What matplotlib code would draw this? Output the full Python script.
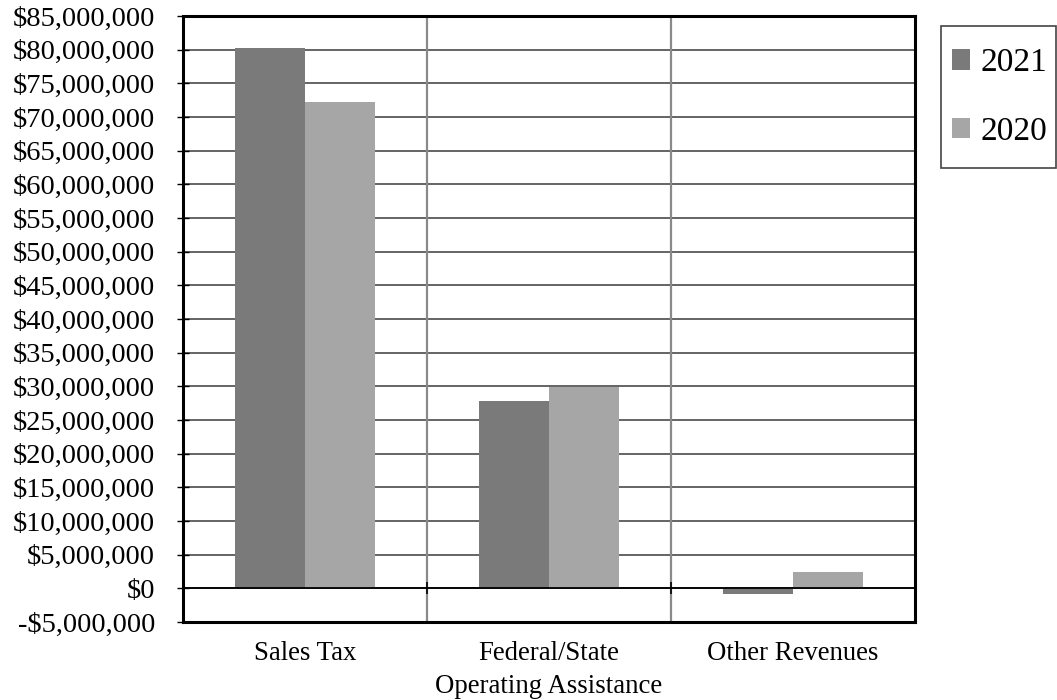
import matplotlib.pyplot as plt
import numpy as np
from matplotlib.patches import Rectangle
from matplotlib.ticker import FuncFormatter

categories = ["Sales Tax", "Federal/State\nOperating Assistance", "Other Revenues"]
years = ["2021", "2020"]
values_2021 = [80_200_000, 27_850_000, -850_000]
values_2020 = [72_250_000, 29_900_000, 2_430_000]
colors = ["#7a7a7a", "#a6a6a6"]

plt.rcParams["font.family"] = ["Liberation Serif", "DejaVu Serif"]

W, H = 1057, 700
fig = plt.figure(figsize=(W / 100, H / 100), dpi=100)
ax = fig.add_axes([183 / W, 1 - 622 / H, (915 - 183) / W, (622 - 16) / H])

x = np.arange(len(categories))
width = 0.285
ax.bar(x - width / 2, values_2021, width, color=colors[0], label=years[0], zorder=3)
ax.bar(x + width / 2, values_2020, width, color=colors[1], label=years[1], zorder=3)

ax.set_xlim(-0.5, len(categories) - 0.5)
ax.set_ylim(-5_000_000, 85_000_000)
ax.set_yticks(np.arange(-5_000_000, 85_000_001, 5_000_000))


def money(v, _pos):
    if v < 0:
        return f"-${abs(v):,.0f}"
    return f"${v:,.0f}"


ax.yaxis.set_major_formatter(FuncFormatter(money))
ax.tick_params(axis="y", labelsize=20.5, length=8, width=1, direction="inout", pad=16)

# horizontal gridlines, zero line, category separators
for v in ax.get_yticks():
    ax.axhline(v, color="#3a3a3a", lw=1.1, zorder=1)
ax.axhline(0, color="black", lw=1.3, zorder=4)
bounds = x[:-1] + 0.5
for b in bounds:
    ax.axvline(b, color="#8a8a8a", lw=1.6, zorder=2)
ax.plot(bounds, np.zeros_like(bounds), ls="none", marker="|", ms=8, mew=1.2,
        color="black", zorder=5)

ax.set_xticks(x)
ax.set_xticklabels(categories, fontsize=19.3, linespacing=1.42)
ax.tick_params(axis="x", length=0, pad=14)

for side in ax.spines.values():
    side.set_linewidth(2.2)
    side.set_color("black")

leg = fig.legend(
    loc="center",
    bbox_to_anchor=(999.5 / W, 1 - 97.5 / H),
    fontsize=24,
    frameon=False,
    handlelength=0.55,
    handleheight=0.55,
    handletextpad=0.3,
    labelspacing=1.15,
    borderpad=0,
    borderaxespad=0,
)

# legend box
fig.patches.append(Rectangle((941 / W, 1 - 168 / H), 115 / W, 142 / H,
                             transform=fig.transFigure, fill=False,
                             edgecolor="#444444", lw=1.2))

fig.savefig("out.png", dpi=100)
